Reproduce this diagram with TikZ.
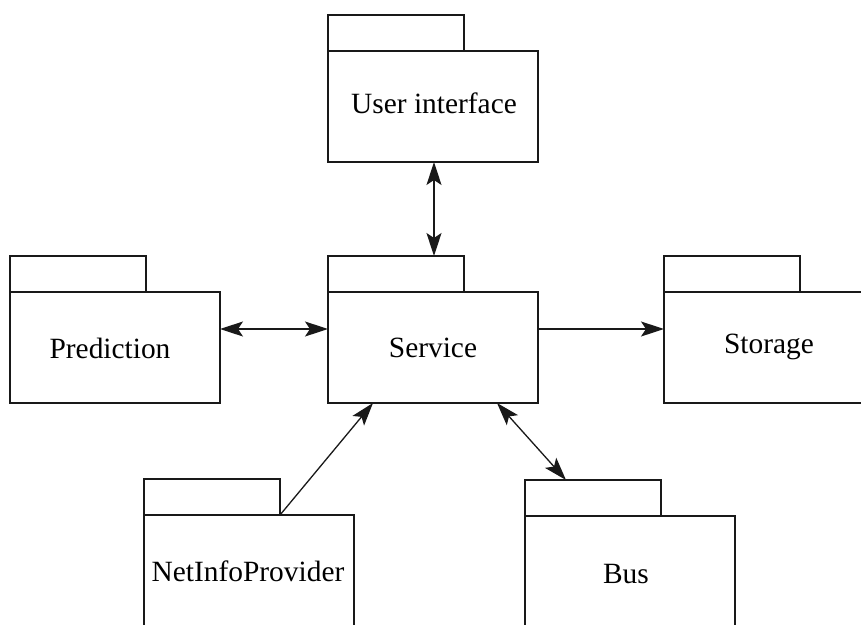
\documentclass[tikz,border=0pt]{standalone}
\usepackage{fontspec}
\setmainfont{Liberation Serif}
\usetikzlibrary{arrows.meta,calc}
\begin{document}
\begin{tikzpicture}[x=1pt,y=-1pt,
  pkline/.style={draw=black!90,line width=1.3pt},
  pkbody/.style={pkline,fill=white,anchor=north west,minimum width=210pt,minimum height=111pt,inner sep=0pt,outer sep=0pt},
  pktab/.style={pkline,fill=white,anchor=south west,minimum width=136pt,minimum height=36pt,inner sep=0pt,outer sep=0pt},
  pklabel/.style={anchor=base,inner sep=0pt,font=\fontsize{29.4}{35}\selectfont},
  conn/.style={line width=1.3pt,draw=black!90},
  tip/.tip={Stealth[length=23pt,width=15pt,inset=5pt]}
]
\useasboundingbox (0,0) rectangle (861,624);
\clip (0,0) rectangle (861,624);
\fill[white] (0,0) rectangle (861,624);

% User interface
\node[pkbody] (uib) at (328,51) {};
\node[pktab] (uit) at (uib.north west) {};
\node[pklabel] (uil) at (434,113) {User interface};

% Service
\node[pkbody] (svb) at (328,292) {};
\node[pktab] (svt) at (svb.north west) {};
\node[pklabel] (svl) at (433,357) {Service};

% Prediction
\node[pkbody] (prb) at (10,292) {};
\node[pktab] (prt) at (prb.north west) {};
\node[pklabel] (prl) at (110,358) {Prediction};

% Storage
\node[pkbody] (stb) at (664,292) {};
\node[pktab] (stt) at (stb.north west) {};
\node[pklabel] (stl) at (769,353) {Storage};

% NetInfoProvider
\node[pkbody] (npb) at (144,515) {};
\node[pktab] (npt) at (npb.north west) {};
\node[pklabel] (npl) at (248,581) {NetInfoProvider};

% Bus
\node[pkbody] (bsb) at (525,516) {};
\node[pktab] (bst) at (bsb.north west) {};
\node[pklabel] (bsl) at (626,583) {Bus};

% connector end points
\coordinate (uiS) at ($(uib.south west)+(106,0)$);
\coordinate (svN) at ($(svt.north west)+(106,0)$);
\coordinate (prE) at ($(prb.north east)+(0,37)$);
\coordinate (svW) at ($(svb.north west)+(0,37)$);
\coordinate (svE) at ($(svb.north east)+(0,37)$);
\coordinate (stW) at ($(stb.north west)+(0,37)$);
\coordinate (svSa) at ($(svb.south west)+(45,0)$);
\coordinate (svSb) at ($(svb.south west)+(169,0)$);
\coordinate (bsN) at ($(bst.north west)+(41,0)$);

\draw[conn,tip-tip] (uiS) -- (svN);
\draw[conn,tip-tip] (prE) -- (svW);
\draw[conn,-tip] (svE) -- (stW);
\draw[conn,-tip] (npt.south east) -- (svSa);
\draw[conn,tip-tip] (svSb) -- (bsN);
\end{tikzpicture}
\end{document}
